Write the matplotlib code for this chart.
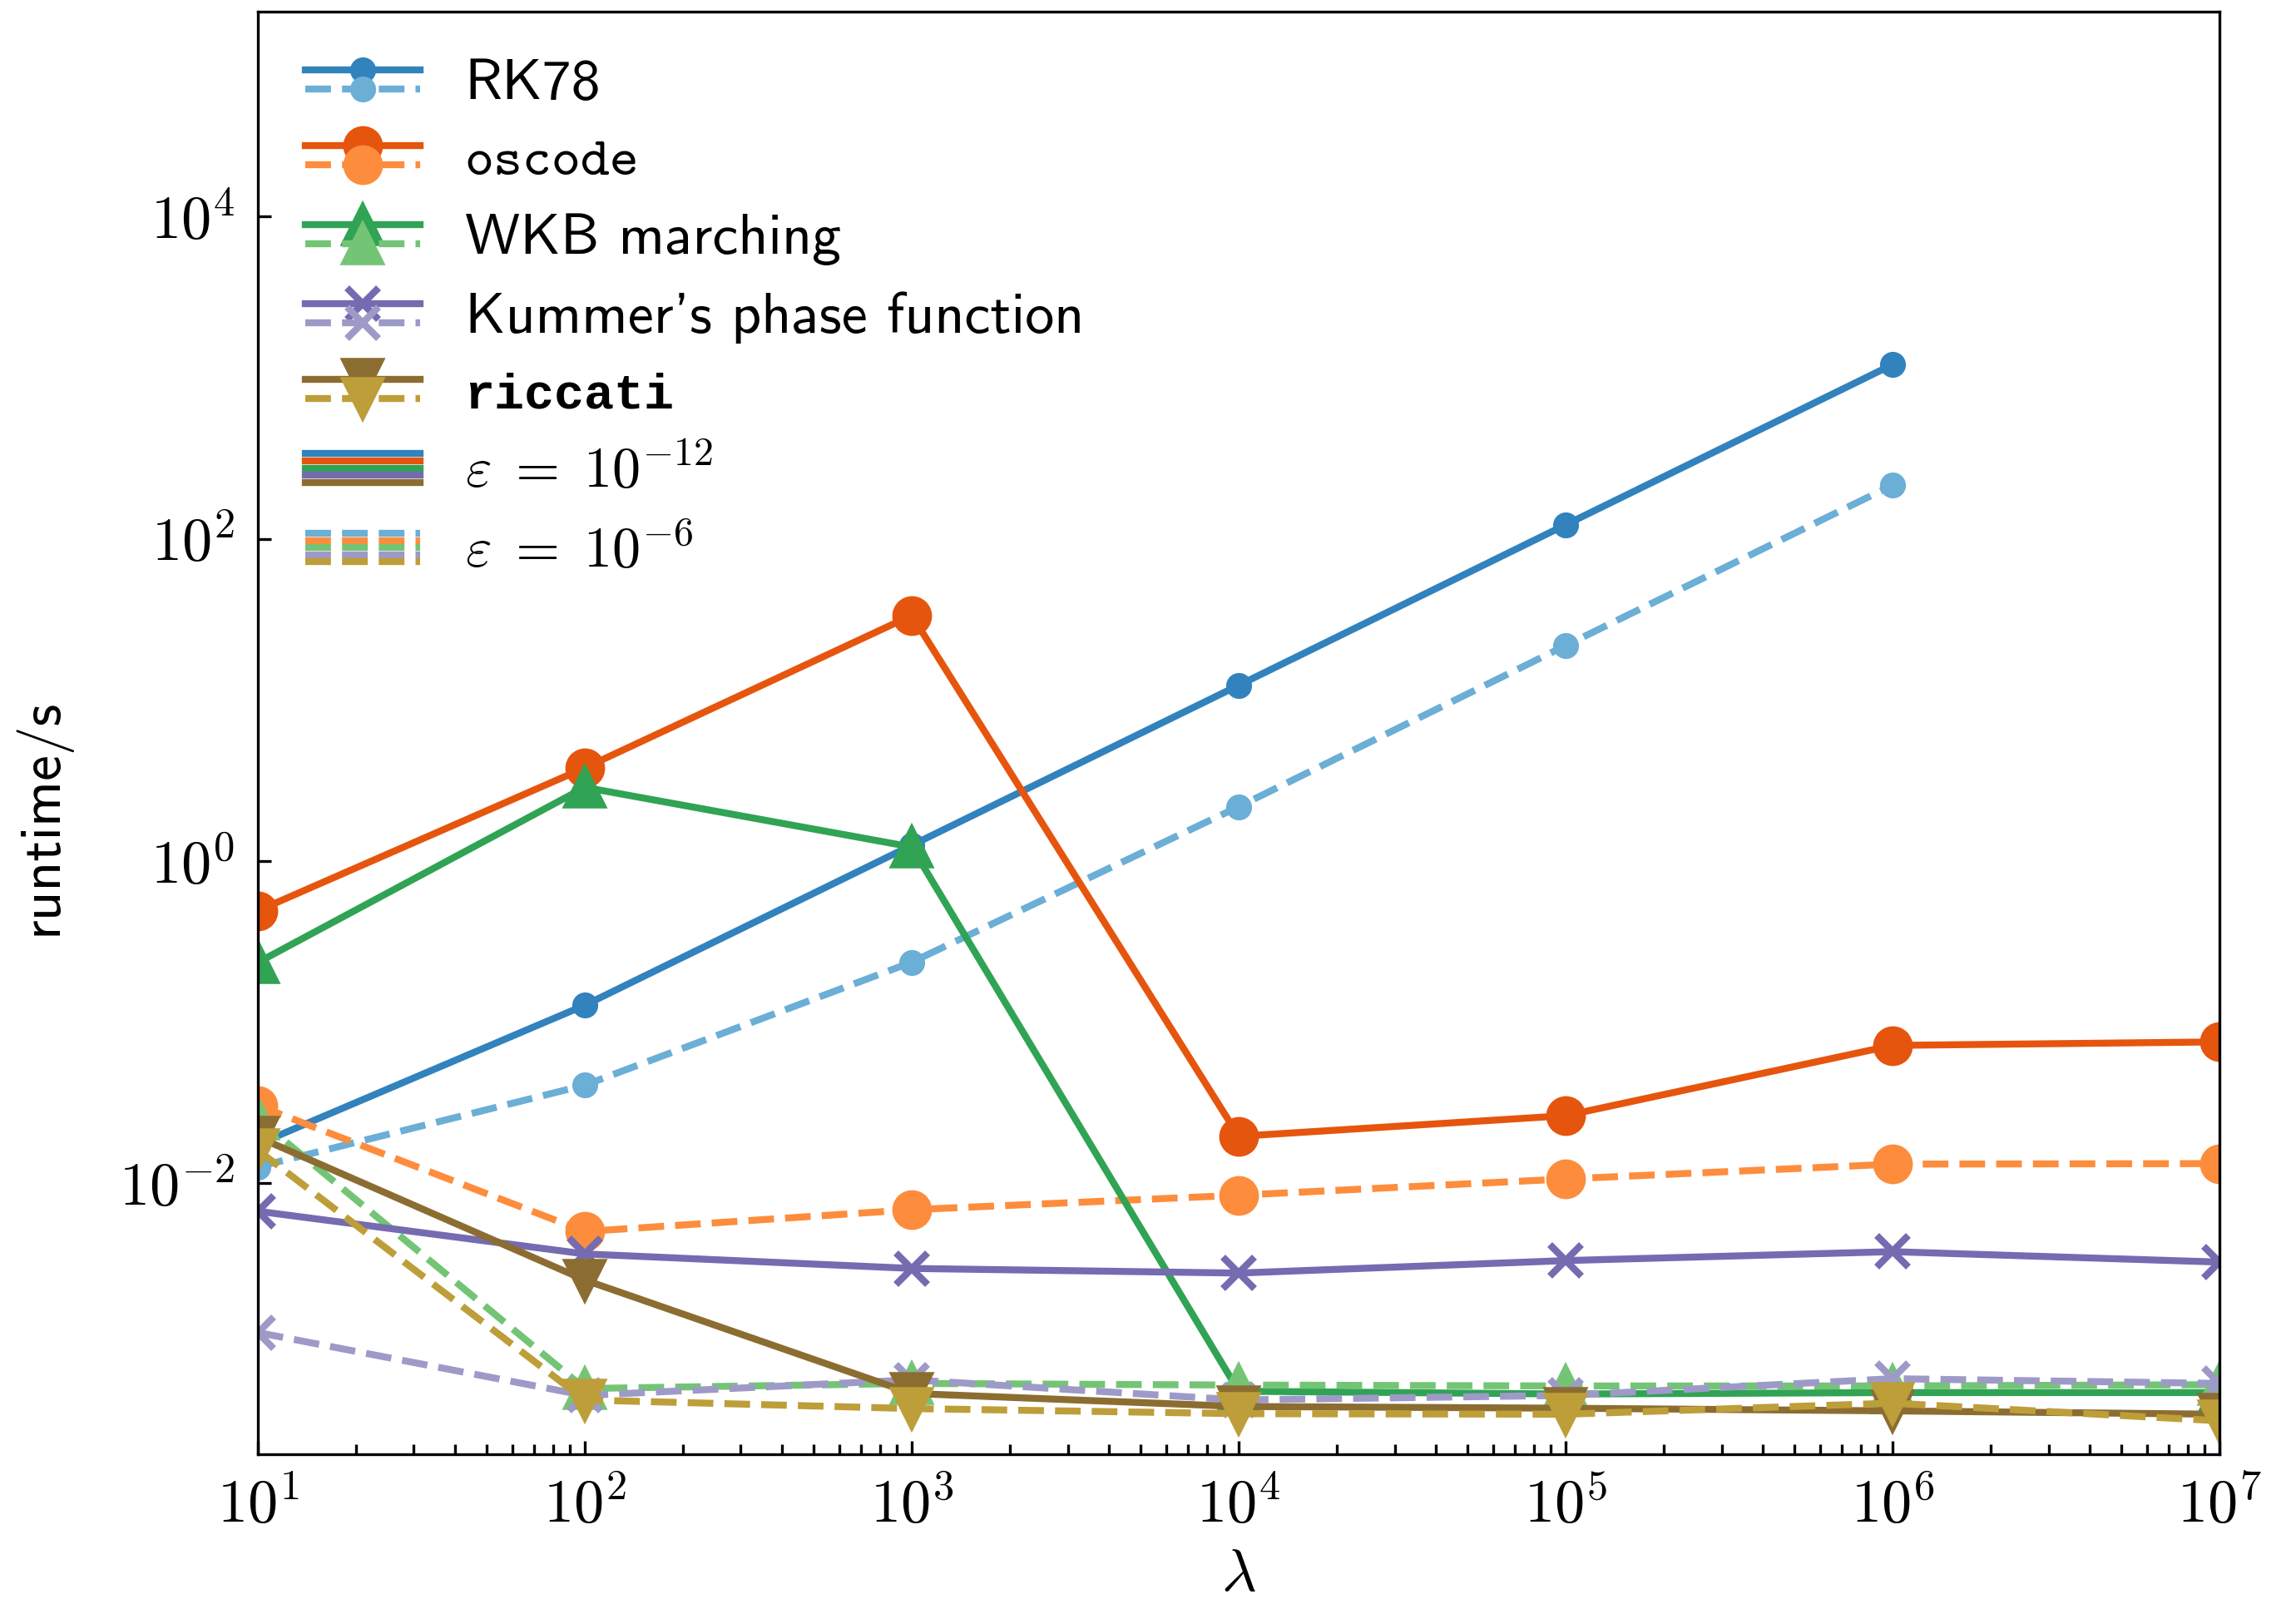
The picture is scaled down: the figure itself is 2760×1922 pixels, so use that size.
import matplotlib
matplotlib.use('Agg')
import numpy as np
import matplotlib.pyplot as plt
from matplotlib import ticker
from matplotlib.lines import Line2D
from matplotlib.legend_handler import HandlerBase

plt.rcParams['mathtext.fontset']='cm'
plt.rcParams['font.family']=['cmr10','DejaVu Sans']
plt.rcParams['axes.unicode_minus']=False

#
# DATA
#
lam=[1e1,1e2,1e3,1e4,1e5,1e6,1e7]
rk78_tight=[0.0174,0.127,1.25,12.3,122,1205]
rk78_loose=[0.0126,0.0405,0.235,2.17,21.7,215]
oscode_tight=[0.49,3.78,33.4,0.0195,0.0262,0.0715,0.0752]
oscode_loose=[0.0303,0.0050,0.00683,0.0084,0.0106,0.0131,0.0132]
wkb_tight=[0.234,2.86,1.22,5.1e-4,4.9e-4,5.0e-4,5.0e-4]
wkb_loose=[0.0251,5.3e-4,5.7e-4,5.57e-4,5.5e-4,5.5e-4,5.6e-4]
kummer_tight=[0.00668,0.00363,0.00295,0.00276,0.0033,0.00375,0.00323]
kummer_loose=[0.00118,4.8e-4,6.0e-4,4.5e-4,4.8e-4,6.1e-4,5.7e-4]
riccati_tight=[0.0193,0.0025,4.94e-4,4.1e-4,4.0e-4,3.85e-4,3.67e-4]
riccati_loose=[0.016,4.5e-4,3.98e-4,3.7e-4,3.67e-4,4.3e-4,3.34e-4]

labels=['RK78','oscode','WKB marching',"Kummer's phase function",'riccati']
eps_labels=[r'$\varepsilon\;=\;10^{-12}$',r'$\varepsilon\;=\;10^{-6}$']
label_fonts=[(['cmss10','DejaVu Sans'],'normal',12.6),
             (['cmtt10','DejaVu Sans Mono'],'normal',12),
             (['cmss10','DejaVu Sans'],'normal',12.6),
             (['cmss10','DejaVu Sans'],'normal',12.6),
             (['Liberation Mono','DejaVu Sans Mono'],'bold',10.8),
             (['cmr10','DejaVu Sans'],'normal',12.3),
             (['cmr10','DejaVu Sans'],'normal',12.3)]

#
# STYLE
#
DARK=['#3182bd','#e6550d','#31a354','#756bb1','#8c6d31']
LIGHT=['#6baed6','#fd8d3c','#74c476','#9e9ac8','#bd9e39']
MARKERS=['o','o','^','x','v']
MSIZES=[4.6,7.6,8.2,7.0,8.2]
LW=1.5
FONTSIZE=12


class Pair(tuple): pass
class Stack(tuple): pass


class StackHandler(HandlerBase):
    """ draw several lines on top of each other in one legend handle """
    def __init__(self,gap):
        super().__init__()
        self.gap=gap

    def create_artists(self,legend,orig_handle,xdescent,ydescent,width,height,fontsize,trans):
        n=len(orig_handle)
        yc=height/2-ydescent
        out=[]
        for k,src in enumerate(orig_handle):
            y=yc+(n-1)/2*self.gap-k*self.gap
            ln=Line2D([-xdescent,width-xdescent],[y,y],
                color=src.get_color(),ls=src.get_linestyle(),lw=src.get_linewidth())
            ln.set_transform(trans)
            out.append(ln)
            if src.get_marker() not in ('None',None,''):
                mk=Line2D([width/2-xdescent],[y],ls='none',
                    marker=src.get_marker(),ms=src.get_markersize(),
                    color=src.get_color(),mew=src.get_markeredgewidth())
                mk.set_transform(trans)
                out.append(mk)
        return out


fig=plt.figure(figsize=(6.9,4.805),dpi=400)
ax=fig.add_axes([0.1123,0.0905,0.8544,0.9022])

tight=[rk78_tight,oscode_tight,wkb_tight,kummer_tight,riccati_tight]
loose=[rk78_loose,oscode_loose,wkb_loose,kummer_loose,riccati_loose]
handles=[]
for i in range(5):
    mew=1.5 if MARKERS[i]=='x' else 1.0
    l1,=ax.plot(lam[:len(tight[i])],tight[i],ls='-',color=DARK[i],lw=LW,
        marker=MARKERS[i],ms=MSIZES[i],mew=mew)
    l2,=ax.plot(lam[:len(loose[i])],loose[i],ls='--',color=LIGHT[i],lw=LW,
        marker=MARKERS[i],ms=MSIZES[i],mew=mew)
    handles.append(Pair((l1,l2)))

handles.append(Stack(tuple(Line2D([],[],color=c,lw=LW,ls='-') for c in DARK)))
handles.append(Stack(tuple(Line2D([],[],color=c,lw=LW,ls='--') for c in LIGHT)))

ax.set_xscale('log')
ax.set_yscale('log')
ax.set_xlim(1e1,1e7)
ax.set_ylim(2.07e-4,1.87e5)

fmt=ticker.FuncFormatter(lambda v,p: r'$10^{%d}$'%int(round(np.log10(v))))
ax.xaxis.set_major_locator(ticker.LogLocator(base=10.0,numticks=20))
ax.xaxis.set_minor_locator(ticker.LogLocator(base=10.0,subs=np.arange(2,10),numticks=20))
ax.xaxis.set_major_formatter(fmt)
ax.xaxis.set_minor_formatter(ticker.NullFormatter())
ax.yaxis.set_major_locator(ticker.LogLocator(base=100.0,numticks=20))
ax.yaxis.set_minor_locator(ticker.NullLocator())
ax.yaxis.set_major_formatter(fmt)
ax.tick_params(which='both',direction='in',width=0.6,labelsize=13,pad=5)
ax.tick_params(which='major',length=2.9)
ax.tick_params(which='minor',length=2.1)
for s in ax.spines.values():
    s.set_linewidth(0.6)

ax.set_xlabel(r'$\lambda$',fontsize=13,labelpad=3)
ax.set_ylabel('runtime/s',fontsize=12.5,fontfamily=['cmss10','DejaVu Sans'])
ax.yaxis.set_label_coords(-0.0954,0.4416)

leg=ax.legend(handles,labels+eps_labels,
    handler_map={Pair:StackHandler(4.1),Stack:StackHandler(1.55)},
    loc='upper left',bbox_to_anchor=(0.0,1.0),frameon=False,
    fontsize=FONTSIZE,handlelength=2.08,handletextpad=0.8,
    labelspacing=0.47,borderaxespad=0.45)
for t,(fam,w,sz) in zip(leg.get_texts(),label_fonts):
    t.set_fontfamily(fam)
    t.set_fontweight(w)
    t.set_fontsize(sz)

fig.savefig('out.png',dpi=400)
